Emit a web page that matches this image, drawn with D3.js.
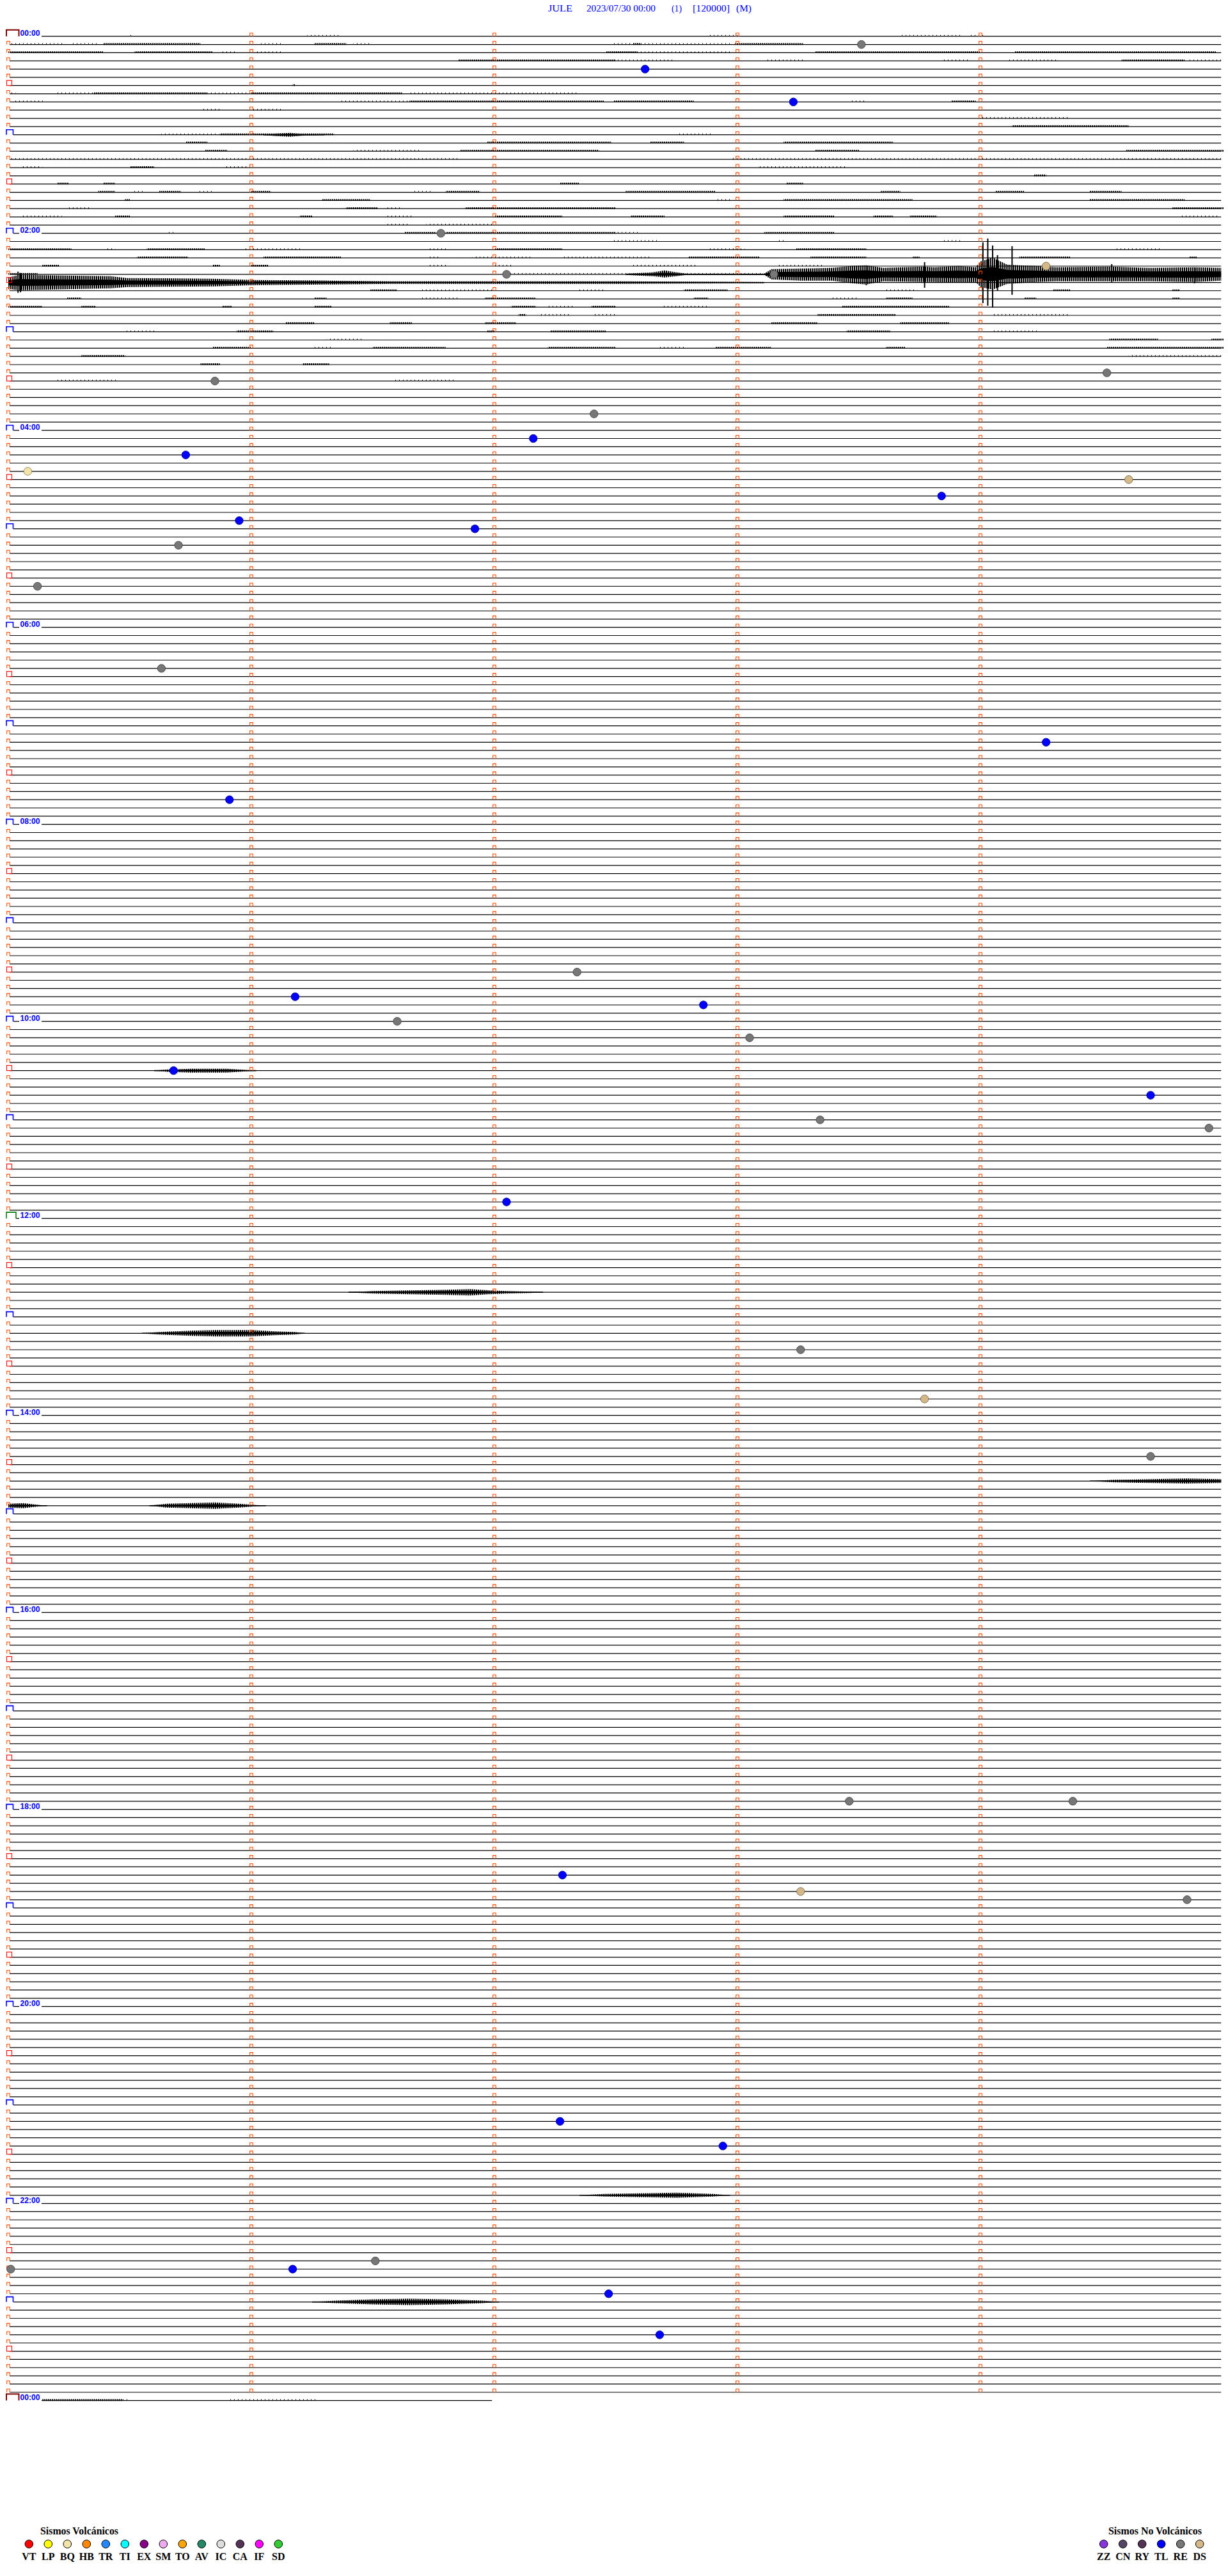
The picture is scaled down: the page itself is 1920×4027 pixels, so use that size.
<!DOCTYPE html>
<html><head><meta charset="utf-8">
<script src="https://cdn.jsdelivr.net/npm/d3@7"></script>
<style>body{margin:0;background:#fff}svg{display:block}</style>
</head><body>
<svg id="c" width="1920" height="4027"></svg>
<script>
// ---------- DATA ----------
const titleParts = [["JULE",857,895],["2023/07/30 00:00",917,1025],["(1)",1050,1066],["[120000]",1083,1141],["(M)",1151,1175]];
const hourLabels = ["00:00","02:00","04:00","06:00","08:00","10:00","12:00","14:00","16:00","18:00","20:00","22:00","00:00"];
const nRows = 289;            // 5-minute rows, 00:00 -> 00:00
const minutesPerRow = 5;
const lastRowEndMinute = 1.99;

// events: [row, minute, type]
const events = [
 [1,3.51,"RE"],[4,2.62,"TL"],[8,3.23,"TL"],[24,1.78,"RE"],[28,4.27,"DS"],[29,2.05,"RE"],[29,3.15,"RE"],
 [41,4.52,"RE"],[42,0.85,"RE"],[46,2.41,"RE"],[49,2.16,"TL"],[51,0.73,"TL"],[53,0.08,"BQ"],[54,4.61,"DS"],
 [56,3.84,"TL"],[59,0.95,"TL"],[60,1.92,"TL"],[62,0.70,"RE"],[67,0.12,"RE"],[77,0.63,"RE"],[86,4.27,"TL"],
 [93,0.91,"TL"],[114,2.34,"RE"],[117,1.18,"TL"],[118,2.86,"TL"],[120,1.60,"RE"],[122,3.05,"RE"],[126,0.68,"TL"],
 [129,4.70,"TL"],[132,3.34,"RE"],[133,4.94,"RE"],[142,2.05,"TL"],[160,3.26,"RE"],[166,3.77,"DS"],[173,4.70,"RE"],
 [215,3.46,"RE"],[215,4.38,"RE"],[224,2.28,"TL"],[226,3.26,"DS"],[227,4.85,"RE"],[254,2.27,"TL"],[257,2.94,"TL"],
 [271,1.51,"RE"],[272,0.01,"RE"],[272,1.17,"TL"],[275,2.47,"TL"],[280,2.68,"TL"]
];

// light trace activity: [row, startMin, endMin, dense(1)/sparse(0)]
const noise = [
 [0,0.49,0.51,0],[0,1.23,1.37,0],[0,2.88,3.01,0],[0,3.67,3.92,0],[0,3.95,4.01,0],
 [1,0,0.23,0],[1,0.26,0.37,0],[1,0.39,0.79,1],[1,1.04,1.13,0],[1,1.26,1.39,1],[1,1.42,1.49,0],[1,2.49,2.98,0],[1,2.57,2.6,1],[1,2.99,3.27,1],
 [2,0,0.39,1],[2,0.52,0.84,1],[2,0.87,0.94,0],[2,1.02,1.13,0],[2,2.46,2.59,1],[2,2.59,2.98,0],[2,3.32,4.0,1],[2,4.14,4.97,1],
 [3,1.85,2.5,1],[3,2.49,2.74,0],[3,3.12,3.28,0],[3,3.85,3.95,0],[3,4.11,4.32,0],[3,4.58,4.84,1],[3,4.86,5,0],
 [6,1.17,1.18,1],
 [7,0,0.03,0],[7,0.2,0.35,0],[7,0.35,0.82,1],[7,0.82,1.0,0],[7,1.0,1.62,1],[7,1.65,2.35,0],
 [8,0.02,0.15,0],[8,1.37,1.65,0],[8,1.65,2.45,1],[8,2.49,2.82,1],[8,3.46,3.53,0],[8,3.88,3.98,1],
 [9,0.24,0.25,0],[9,0.49,0.5,0],[9,0.79,0.87,0],[9,1.0,1.13,0],
 [10,4.0,4.37,0],[11,4.13,4.61,1],
 [12,0.63,0.86,0],[12,0.87,1.34,1],[12,2.75,2.9,0],
 [13,0.73,0.82,1],[13,1.97,2.48,1],[13,2.64,2.78,1],[13,3.19,3.64,1],
 [14,0.81,0.9,1],[14,1.42,1.7,0],[14,1.86,2.43,1],[14,3.32,3.5,1],[14,4.6,5,1],
 [15,0,1.86,0],[15,2.97,5,0],
 [16,0.06,0.14,0],[16,0.5,0.6,1],[16,0.89,1.0,0],[16,3.08,3.45,0],
 [17,4.22,4.27,1],
 [18,0.2,0.25,1],[18,0.39,0.44,1],[18,2.27,2.35,1],[18,3.2,3.27,1],
 [19,0.37,0.44,1],[19,0.51,0.56,0],[19,0.62,0.71,1],[19,0.78,0.84,0],[19,1.0,1.08,1],[19,1.66,1.75,0],[19,1.8,1.94,1],[19,2.54,2.91,1],[19,3.59,3.67,1],[19,4.06,4.18,1],[19,4.45,4.58,1],
 [20,0.48,0.5,1],[20,1.29,1.49,1],[20,2.91,2.98,0],[20,3.19,3.72,1],[20,4.45,4.84,1],
 [21,0.24,0.34,0],[21,1.39,1.52,1],[21,1.56,1.62,0],[21,1.88,2.5,1],[21,4.79,5,1],
 [22,0.05,0.22,0],[22,0.44,0.5,1],[22,1.2,1.25,1],[22,1.56,1.67,0],[22,2.0,2.28,1],[22,2.56,2.7,1],[22,3.19,3.4,1],[22,3.56,3.64,1],[22,3.71,3.82,1],[22,4.82,4.98,0],
 [23,1.55,1.65,0],[23,1.72,2.0,0],
 [24,0.65,0.68,0],[24,1.63,1.76,1],[24,1.8,2.5,1],[24,2.49,2.59,0],[24,3.11,3.4,1],
 [25,2.49,2.68,0],[25,3.17,3.2,0],[25,3.84,3.92,0],
 [26,0,0.26,1],[26,0.4,0.44,0],[26,0.57,0.81,1],[26,0.97,1.2,0],[26,1.73,1.81,0],[26,2.0,2.28,1],[26,2.88,3.03,0],[26,3.24,3.53,1],[26,4.56,4.74,0],
 [27,0.53,0.74,1],[27,1.05,1.37,1],[27,1.73,1.78,0],[27,1.91,2.15,0],[27,2.28,2.65,0],[27,2.8,3.09,1],[27,3.3,3.53,1],[27,3.72,3.75,1],[27,4.16,4.37,1],[27,4.86,4.89,1],
 [28,0.14,0.21,1],[28,0.84,0.87,1],[28,1.0,1.07,1],[28,1.73,1.8,0],[28,2.0,2.07,0],[28,2.56,2.83,0],[28,3.17,3.35,0],
 [29,0,0.12,1],[29,2.05,2.5,0],[29,2.49,3.1,0],
 [31,1.49,1.6,1],[31,1.7,1.99,0],[31,2.35,2.45,0],[31,2.78,2.96,1],[31,3.61,3.74,0],[31,4.3,4.37,1],[31,4.79,4.82,1],
 [32,0.24,0.3,1],[32,1.26,1.31,1],[32,1.7,1.85,0],[32,1.96,2.17,1],[32,2.82,2.88,1],[32,3.38,3.5,0],[32,3.61,3.72,1],[32,4.18,4.23,1],[32,4.79,4.82,1],
 [33,0,0.14,1],[33,0.3,0.36,1],[33,0.88,0.92,1],[33,1.26,1.33,1],[33,2.07,2.17,1],[33,2.22,2.33,0],[33,2.4,2.5,1],[33,2.69,2.88,0],[33,3.43,3.87,1],
 [34,2.1,2.13,1],[34,2.18,2.31,0],[34,2.4,2.5,0],[34,3.33,3.65,1],[34,4.05,4.37,0],
 [35,1.14,1.26,1],[35,1.57,1.66,1],[35,1.96,2.09,1],[35,3.14,3.33,1],[35,3.67,3.87,1],
 [36,0.48,0.61,0],[36,0.94,1.09,1],[36,1.97,2.0,1],[36,2.23,2.46,1],[36,3.45,3.63,1],[36,4.05,4.24,0],
 [37,1.31,1.46,0],[37,4.53,4.73,1],[37,4.95,5,1],
 [38,0.84,1.0,1],[38,1.25,1.33,0],[38,1.5,1.8,1],[38,2.22,2.5,1],[38,2.67,2.78,0],[38,2.91,3.14,1],[38,3.61,3.69,1],[38,4.52,5,1],
 [39,0.3,0.48,1],[39,4.61,5,0],
 [40,0.79,0.87,1],[40,1.21,1.32,1],
 [42,0.19,0.45,0],[42,1.58,1.84,0],
 [288,0.14,0.47,1],[288,0.47,0.5,0],[288,0.9,1.27,0]
];

// wave packets: {row, pts:[[minute, halfHeightPx]]}
const packets = [
 {row:12,  pts:[[1.05,0],[1.1,2],[1.16,3],[1.22,1],[1.3,0]]},
 {row:126, pts:[[0.6,0],[0.66,2],[0.75,3],[0.9,3],[0.98,1],[1.02,0]]},
 {row:153, pts:[[1.4,0],[1.5,2],[1.65,3],[1.8,4],[1.9,5],[1.98,3],[2.05,2],[2.15,1],[2.2,0]]},
 {row:158, pts:[[0.55,0],[0.62,2],[0.75,4],[0.85,5],[1.0,5],[1.1,3],[1.18,2],[1.22,0]]},
 {row:176, pts:[[4.45,0],[4.55,2],[4.7,3],[4.85,4],[4.99,3]]},
 {row:179, pts:[[0,3],[0.06,4],[0.13,1],[0.16,0]]},
 {row:179, pts:[[0.58,0],[0.65,3],[0.75,4],[0.85,5],[0.95,3],[1.02,1],[1.06,0]]},
 {row:263, pts:[[2.35,0],[2.45,2],[2.6,3],[2.75,4],[2.9,2],[2.97,0]]},
 {row:276, pts:[[1.25,0],[1.35,2],[1.5,4],[1.65,5],[1.8,4],[1.95,2],[2.02,0]]}
];

// earthquake envelope (02:25-02:35): [minute, upPx, downPx]
const quakeRow29 = [[2.54,1,1],[2.65,3,3],[2.70,6,5],[2.75,3,3],[2.79,1,1],[3.11,1,1],[3.14,8,8],[3.26,9,10],[3.39,10,10],
 [3.47,13,14],[3.53,14,16],[3.60,10,11],[3.76,12,12],[3.81,11,12],[3.91,13,13],[3.98,11,12],[4.0,20,20],[4.05,26,24],
 [4.11,15,15],[4.16,14,14],[4.23,13,12],[4.31,11,11],[4.54,12,11],[4.70,10,11],[4.88,11,12],[4.99,10,10]];
const quakeRow30 = [[0.0,8,10],[0.045,12,12],[0.42,10,9],[0.49,7,7],[0.84,6,6],[1.02,4,4],[1.33,3,3],[1.58,2,2],[2.5,2,2],[3.11,1,1]];
// single large swings: [row, minute, upPx, downPx]
const spikes = [[29,4.01,50,45],[29,4.03,56,49],[29,4.05,45,52],[29,4.07,30,25],[29,4.13,44,32],[29,3.77,19,21],[29,3.53,13,17],
 [29,4.54,16,12],[29,4.88,10,14],[30,0.04,17,16],[30,0.05,15,15]];

const volcTypes  = ["VT","LP","BQ","HB","TR","TI","EX","SM","TO","AV","IC","CA","IF","SD"];
const volcColors = ["#ff0000","#ffff00","#f2e4a8","#ff8800","#2288ff","#00ffff","#880088","#eeaaee","#ffa500","#228866","#dddddd","#553355","#ff00ff","#33cc33"];
const nonVolcTypes  = ["ZZ","CN","RY","TL","RE","DS"];
const nonVolcColors = ["#8833dd","#554466","#553355","#0000ff","#777777","#d4b888"];

// ---------- DRAW ----------
const svg = d3.select("#c");
const x = d3.scaleLinear().domain([0, minutesPerRow]).range([13, 1913]);
const y = d3.scaleLinear().domain([0, nRows - 1]).range([56.7, 3752.6]);
const colorOf = new Map([...volcTypes.map((t,i)=>[t,volcColors[i]]), ...nonVolcTypes.map((t,i)=>[t,nonVolcColors[i]])]);

svg.append("rect").attr("width",1920).attr("height",4027).attr("fill","#fff");
const defs = svg.append("defs");
function stripe(id, w, on){
  defs.append("pattern").attr("id",id).attr("patternUnits","userSpaceOnUse").attr("width",w).attr("height",60)
    .append("rect").attr("width",on).attr("height",60).attr("fill","#000");
}
stripe("sparse", 6, 1);
stripe("dense", 3, 2);
stripe("hatch", 3, 2);

// title
svg.append("g").selectAll("text").data(titleParts).join("text")
  .attr("x", d=>d[1]).attr("y", 17.5).attr("textLength", d=>d[2]-d[1]).attr("lengthAdjust","spacingAndGlyphs")
  .attr("font-family","'Liberation Serif', 'Times New Roman', serif").attr("font-size",14.5).attr("fill","#0000ff")
  .text(d=>d[0]);

const rows = d3.range(nRows);
const gLines = svg.append("g");
gLines.selectAll("line").data(rows).join("line")
  .attr("x1", r => r % 24 === 0 ? 65 : (r % 12 === 0 ? 21 : 15))
  .attr("x2", r => r === nRows-1 ? x(lastRowEndMinute) : x(4.99))
  .attr("y1", r=>y(r)).attr("y2", r=>y(r))
  .attr("stroke","#000").attr("stroke-width",1.2);
gLines.selectAll("line.stub").data(rows.filter(r=>r%24===0 && r!==0 && r!==nRows-1)).join("line").attr("class","stub")
  .attr("x1", r=> r===144 ? 25 : 21).attr("x2",30).attr("y1",r=>y(r)).attr("y2",r=>y(r))
  .attr("stroke","#000").attr("stroke-width",1.2);

// light noise
svg.append("g").selectAll("rect").data(noise).join("rect")
  .attr("x", d=>x(d[1])).attr("width", d=>Math.max(1.5, x(d[2])-x(d[1])))
  .attr("y", d=>y(d[0])-2).attr("height", d=>d[3] ? 2.6 : 2.2)
  .attr("fill", d=>d[3] ? "url(#dense)" : "url(#sparse)");

// envelopes
function envelope(row, pts, coreK){
  const area = d3.area().x(d=>x(d[0])).y0(d=>y(row)-d[1]).y1(d=>y(row)+d[2]);
  const core = d3.area().x(d=>x(d[0])).y0(d=>y(row)-Math.max(0.8,d[1]*coreK)).y1(d=>y(row)+Math.max(0.8,d[2]*coreK));
  svg.append("path").attr("d", area(pts)).attr("fill","url(#hatch)");
  svg.append("path").attr("d", core(pts)).attr("fill","#000");
}
packets.forEach(p => envelope(p.row, p.pts.map(d=>[d[0],d[1],d[1]]), 0.45));
envelope(29, quakeRow29, 0.45);
envelope(30, quakeRow30, 0.45);
svg.append("g").selectAll("line").data(spikes).join("line")
  .attr("x1",d=>x(d[1])).attr("x2",d=>x(d[1])).attr("y1",d=>y(d[0])-d[2]).attr("y2",d=>y(d[0])+d[3])
  .attr("stroke","#000").attr("stroke-width",2);

// minute ticks (orange) and row-start markers
const gm = svg.append("g");
const tickData = [];
rows.forEach(r=>{
  if (r === nRows-1) return;
  [1,2,3,4].forEach(m=>tickData.push([r,m]));
  if (r % 6 !== 0) tickData.push([r,0]);
});
gm.selectAll("path.t").data(tickData).join("path").attr("class","t")
  .attr("d", d=>{const cx=x(d[1]), cy=y(d[0]); return `M${cx-2.3},${cy}V${cy-5}H${cx+2.3}V${cy}`;})
  .attr("fill","none").attr("stroke","#ff4a00").attr("stroke-width",1.1);
gm.selectAll("rect.h").data(rows.filter(r=>r%6===0 && r%12!==0)).join("rect").attr("class","h")
  .attr("x",10.5).attr("y",r=>y(r)-8).attr("width",8).attr("height",8)
  .attr("fill","none").attr("stroke","#ff0000").attr("stroke-width",1.1);
gm.selectAll("path.hr").data(rows.filter(r=>r%12===0)).join("path").attr("class","hr")
  .attr("d", r=>{
    const cy=y(r);
    if (r===0 || r===nRows-1) return `M10,${cy}V${cy-10}H29.5V${cy}`;
    if (r===144) return `M10,${cy}V${cy-9.5}H25V${cy}`;
    return `M10,${cy}V${cy-8}H20.5V${cy}`;
  })
  .attr("fill","none")
  .attr("stroke", r => (r===0||r===nRows-1) ? "#800000" : (r===144 ? "#008000" : "#0000ff"))
  .attr("stroke-width", r => (r===0||r===nRows-1) ? 2 : 1.6);
svg.append("g").selectAll("text").data(hourLabels).join("text")
  .attr("x",31.5).attr("y",(d,i)=>y(i*24)-0.3)
  .attr("textLength",31).attr("lengthAdjust","spacingAndGlyphs")
  .attr("font-family","'Liberation Sans', Arial, sans-serif").attr("font-weight","bold").attr("font-size",13)
  .attr("fill","#0000ff").text(d=>d);

// events
svg.append("g").selectAll("circle").data(events).join("circle")
  .attr("cx",d=>x(d[1])).attr("cy",d=>y(d[0])).attr("r",6.2)
  .attr("fill",d=>colorOf.get(d[2]))
  .attr("stroke",d=>d3.color(colorOf.get(d[2])).darker(1.6)).attr("stroke-width",0.9);

// legends
function legend(title, titleX, titleW, types, colors, x0){
  const g = svg.append("g").attr("font-family","'Liberation Serif','Times New Roman',serif").attr("font-weight","bold");
  g.append("text").attr("x",titleX).attr("y",3962).attr("font-size",16)
    .attr("textLength",titleW).attr("lengthAdjust","spacingAndGlyphs").text(title);
  g.selectAll("circle").data(types).join("circle")
    .attr("cx",(d,i)=>x0+30*i).attr("cy",3977).attr("r",6.3)
    .attr("fill",(d,i)=>colors[i]).attr("stroke","#000").attr("stroke-width",1);
  g.selectAll("text.l").data(types).join("text").attr("class","l")
    .attr("x",(d,i)=>x0+30*i).attr("y",4001.7).attr("text-anchor","middle").attr("font-size",16).text(d=>d);
}
legend("Sismos Volcánicos", 63, 122, volcTypes, volcColors, 45.3);
legend("Sismos No Volcánicos", 1733, 146, nonVolcTypes, nonVolcColors, 1725.7);
</script>
</body></html>
